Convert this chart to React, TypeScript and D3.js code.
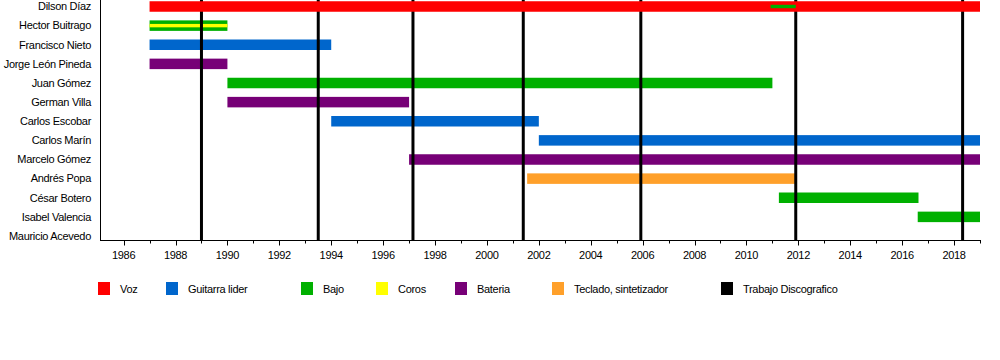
import React, { useEffect, useRef } from "react";
import * as d3 from "d3";

const members = [
  "Dilson Díaz",
  "Hector Buitrago",
  "Francisco Nieto",
  "Jorge León Pineda",
  "Juan Gómez",
  "German Villa",
  "Carlos Escobar",
  "Carlos Marín",
  "Marcelo Gómez",
  "Andrés Popa",
  "César Botero",
  "Isabel Valencia",
  "Mauricio Acevedo",
];

const roles = ["Voz", "Guitarra lider", "Bajo", "Coros", "Bateria", "Teclado, sintetizador", "Trabajo Discografico"];
const roleColors = ["#ff0000", "#0066cc", "#00b000", "#ffff00", "#770077", "#ffa02a", "#000000"];

// main bars
const bars = [
  { name: "Dilson Díaz", role: "Voz", from: 1987, to: 2019 },
  { name: "Hector Buitrago", role: "Bajo", from: 1987, to: 1990 },
  { name: "Francisco Nieto", role: "Guitarra lider", from: 1987, to: 1994 },
  { name: "Jorge León Pineda", role: "Bateria", from: 1987, to: 1990 },
  { name: "Juan Gómez", role: "Bajo", from: 1990, to: 2011 },
  { name: "German Villa", role: "Bateria", from: 1990, to: 1997 },
  { name: "Carlos Escobar", role: "Guitarra lider", from: 1994, to: 2002 },
  { name: "Carlos Marín", role: "Guitarra lider", from: 2002, to: 2019 },
  { name: "Marcelo Gómez", role: "Bateria", from: 1997, to: 2019 },
  { name: "Andrés Popa", role: "Teclado, sintetizador", from: 2001.55, to: 2011.92 },
  { name: "César Botero", role: "Bajo", from: 2011.25, to: 2016.63 },
  { name: "Isabel Valencia", role: "Bajo", from: 2016.6, to: 2019 },
];

// thin secondary bars
const thinBars = [
  { name: "Hector Buitrago", role: "Coros", from: 1987, to: 1990 },
  { name: "Dilson Díaz", role: "Bajo", from: 2010.93, to: 2011.9 },
];

// albums (Trabajo Discografico)
const albums = [1989, 1993.5, 1997.15, 2001.4, 2005.93, 2011.9, 2018.33];

const majorTicks = d3.range(1986, 2019, 2);
const minorTicks = d3.range(1986, 2020, 1);

const legendX = [98, 166, 301, 376, 455, 552, 721];

export default function App() {
  const ref = useRef<SVGSVGElement>(null);

  useEffect(() => {
    const svg = d3.select(ref.current);
    svg.selectAll("*").remove();
    const font = "'Liberation Sans', Arial, sans-serif";
    const ls = "-0.3px";

    const x = d3.scaleLinear().domain([1985.09, 2019]).range([100, 980]);
    const y = d3.scalePoint<string>().domain(members).range([6.5, 236]);
    const color = d3.scaleOrdinal<string, string>().domain(roles).range(roleColors);

    const bh = 10.5;
    const th = 3.4;

    // member labels
    svg.append("g")
      .selectAll("text")
      .data(members)
      .join("text")
      .attr("x", 91)
      .attr("y", (d) => y(d)!)
      .attr("dy", "0.35em")
      .attr("text-anchor", "end")
      .attr("font-family", font)
      .attr("font-size", 11)
      .attr("letter-spacing", ls)
      .attr("fill", "#000")
      .text((d) => d);

    const drawBars = (g: any, data: any[], h: number) =>
      g.selectAll("rect")
        .data(data)
        .join("rect")
        .attr("x", (d: any) => x(d.from))
        .attr("width", (d: any) => x(d.to) - x(d.from))
        .attr("y", (d: any) => y(d.name)! - h / 2)
        .attr("height", h)
        .attr("fill", (d: any) => color(d.role));

    const first = members[0];
    drawBars(svg.append("g"), bars.filter((b) => b.name !== first), bh);
    drawBars(svg.append("g"), thinBars.filter((b) => b.name !== first), th);

    // album lines
    svg.append("g")
      .selectAll("line")
      .data(albums)
      .join("line")
      .attr("x1", (d) => x(d))
      .attr("x2", (d) => x(d))
      .attr("y1", 0)
      .attr("y2", 240)
      .attr("stroke", "#000")
      .attr("stroke-width", 3);

    drawBars(svg.append("g"), bars.filter((b) => b.name === first), bh);
    drawBars(svg.append("g"), thinBars.filter((b) => b.name === first), th);

    // axes
    const ax = svg.append("g").attr("stroke", "#000").attr("stroke-width", 1);
    ax.append("line").attr("x1", 100.5).attr("x2", 100.5).attr("y1", 0).attr("y2", 240.5);
    ax.append("line").attr("x1", 100).attr("x2", x(2019)).attr("y1", 240.5).attr("y2", 240.5);
    ax.selectAll("line.minor")
      .data(minorTicks)
      .join("line")
      .attr("class", "minor")
      .attr("x1", (d) => Math.round(x(d)) + 0.5)
      .attr("x2", (d) => Math.round(x(d)) + 0.5)
      .attr("y1", 240)
      .attr("y2", (d) => (d % 2 === 0 ? 245.5 : 243.5));

    svg.append("g")
      .selectAll("text")
      .data(majorTicks)
      .join("text")
      .attr("x", (d) => x(d))
      .attr("y", 255.5)
      .attr("dy", "0.35em")
      .attr("text-anchor", "middle")
      .attr("font-family", font)
      .attr("font-size", 11)
      .attr("letter-spacing", ls)
      .attr("fill", "#000")
      .text((d) => String(d));

    // legend
    const lg = svg.append("g")
      .selectAll("g")
      .data(roles)
      .join("g")
      .attr("transform", (d, i) => `translate(${legendX[i]},282)`);
    lg.append("rect").attr("width", 12).attr("height", 13).attr("fill", (d) => color(d));
    lg.append("text")
      .attr("x", 22)
      .attr("y", 7)
      .attr("dy", "0.35em")
      .attr("font-family", font)
      .attr("font-size", 11)
      .attr("letter-spacing", ls)
      .attr("fill", "#000")
      .text((d) => d);
  }, []);

  return (
    <svg
      ref={ref}
      width={1000}
      height={360}
      style={{ position: "absolute", left: 0, top: 0, background: "#fff" }}
    />
  );
}
